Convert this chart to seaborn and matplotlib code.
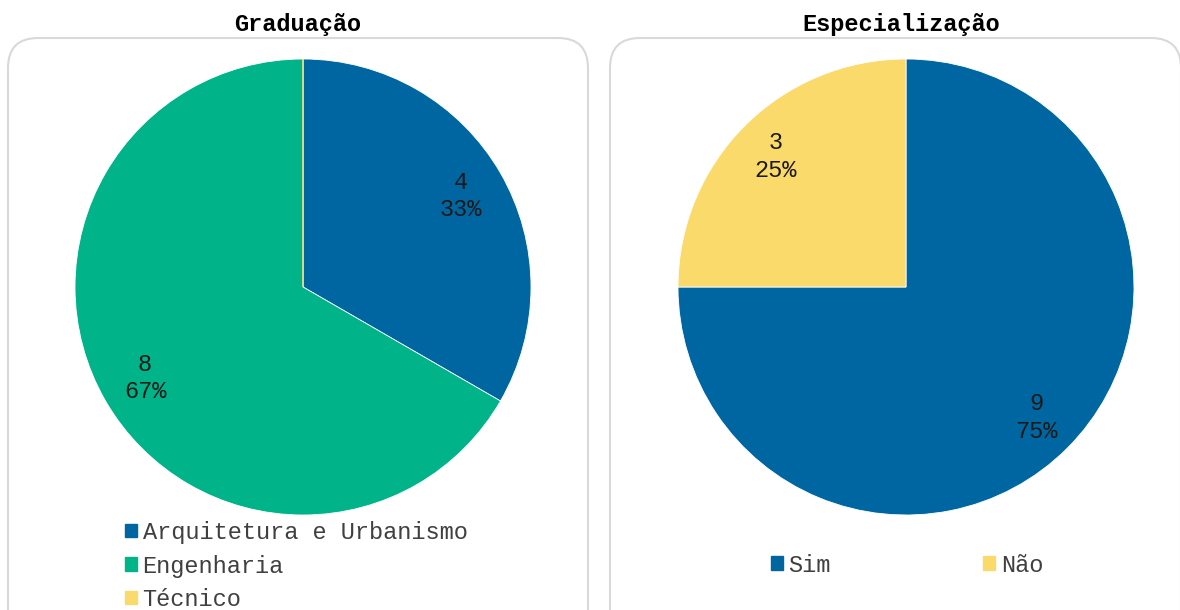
import matplotlib
matplotlib.use("Agg")
import matplotlib.pyplot as plt
import seaborn as sns
from matplotlib.patches import FancyBboxPatch, Patch
from matplotlib.transforms import IdentityTransform

grad_labels = ["Arquitetura e Urbanismo", "Engenharia", "Técnico"]
grad_counts = [4, 8, 0]
esp_labels = ["Sim", "Não"]
esp_counts = [9, 3]
titles = ["Graduação", "Especialização"]

BLUE = "#0066A1"
GREEN = "#00B388"
YELLOW = "#FADA6A"

sns.set_theme(style="white")
plt.rcParams["font.family"] = ["Liberation Mono", "DejaVu Sans Mono"]

W, H = 1180, 610
fig = plt.figure(figsize=(W / 100, H / 100), dpi=100)


def px_rect(x0, y0, x1, y1):
    # pixel box (top-left origin) -> figure fraction rect
    return [x0 / W, 1 - y1 / H, (x1 - x0) / W, (y1 - y0) / H]


def make_autopct(counts):
    total = sum(counts)

    def fmt(pct):
        n = int(round(pct * total / 100))
        return "" if n == 0 else f"{n}\n{pct:.0f}%"
    return fmt


# rounded frames around each chart, drawn in pixel space
for x0, x1 in [(8, 588), (610, 1181)]:
    box = FancyBboxPatch(
        (x0, -40), x1 - x0, (H - 38) + 40,
        boxstyle="round,pad=0,rounding_size=30",
        transform=IdentityTransform(), facecolor="none",
        edgecolor="#d9d9d9", linewidth=1.5,
    )
    fig.patches.append(box)

panels = [
    (grad_counts, [BLUE, GREEN, YELLOW], 303, 0.80),
    (esp_counts, [BLUE, YELLOW], 906, 0.81),
]
for counts, colors, cx, pdist in panels:
    ax = fig.add_axes(px_rect(cx - 228, 59, cx + 228, 515))
    wedges, _, autotexts = ax.pie(
        counts, colors=colors, startangle=90, counterclock=False,
        autopct=make_autopct(counts), pctdistance=pdist,
        wedgeprops=dict(edgecolor="white", linewidth=0.6),
        textprops=dict(fontsize=17, color="#1a1a1a", linespacing=1.25),
    )
    for w, c, col in zip(wedges, counts, colors):
        if c == 0:
            w.set_edgecolor(col)
            w.set_linewidth(1.0)
    ax.set_xlim(-1, 1)
    ax.set_ylim(-1, 1)
    ax.set_aspect("equal")

fig.text(298 / W, 1 - 25 / H, titles[0], ha="center", va="center",
         fontsize=17, fontweight="bold", color="black")
fig.text(901 / W, 1 - 25 / H, titles[1], ha="center", va="center",
         fontsize=17, fontweight="bold", color="black")

grad_handles = [Patch(color=c) for c in [BLUE, GREEN, YELLOW]]
fig.legend(grad_handles, grad_labels, loc="center left",
           bbox_to_anchor=(113 / W, 1 - 566 / H), frameon=False,
           fontsize=17, handlelength=0.5, handleheight=0.5,
           handletextpad=0.25, labelspacing=0.45, borderpad=0,
           labelcolor="#404040")

esp_handles = [Patch(color=c) for c in [BLUE, YELLOW]]
fig.legend(esp_handles, esp_labels, loc="center left",
           bbox_to_anchor=(759 / W, 1 - 565 / H), frameon=False, ncol=2,
           fontsize=17, handlelength=0.5, handleheight=0.5,
           handletextpad=0.25, columnspacing=6.45, borderpad=0,
           labelcolor="#404040")

fig.savefig("out.png", dpi=100)
